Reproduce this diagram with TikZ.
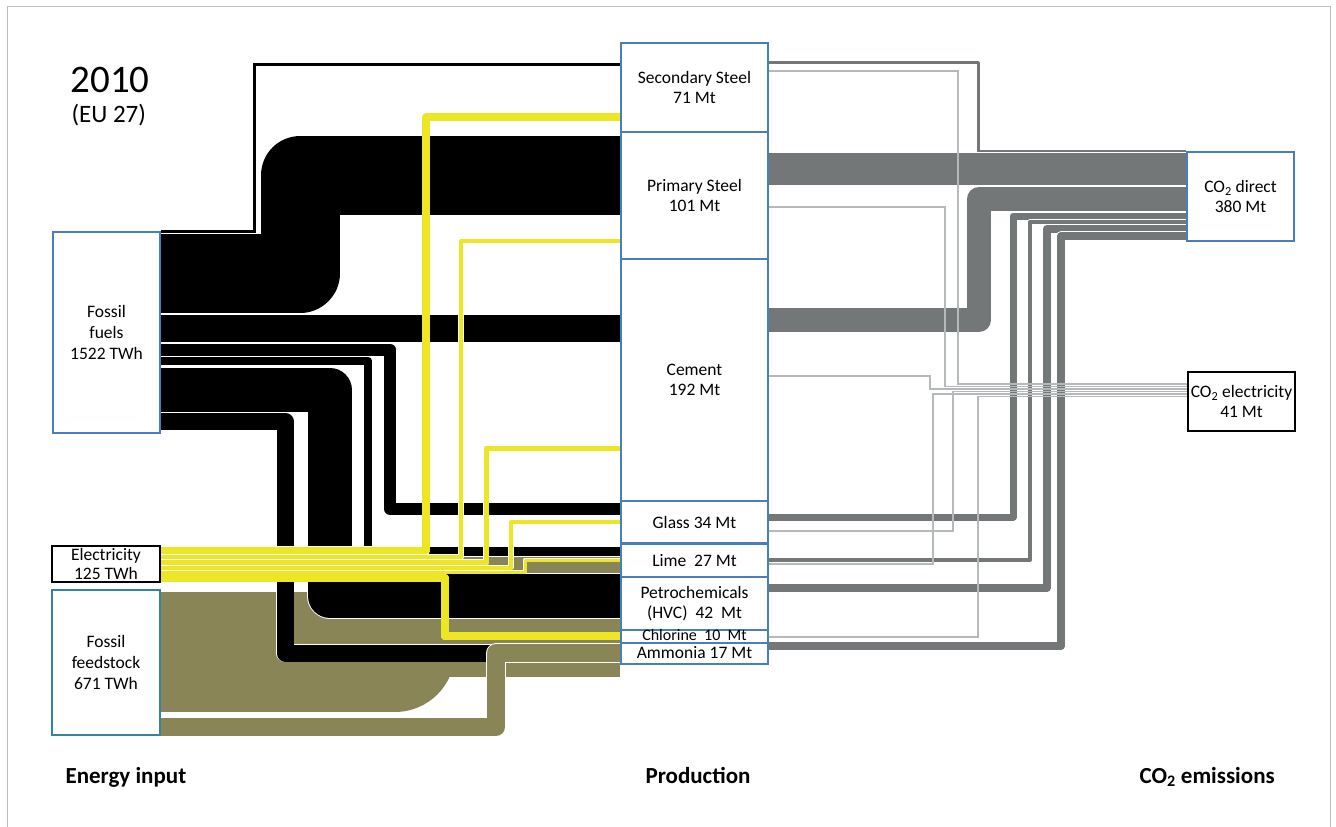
\documentclass[tikz,border=0pt]{standalone}
\usepackage{fontspec}
\setmainfont{Carlito}
\usetikzlibrary{backgrounds}

\definecolor{fuel}{RGB}{0,0,0}
\definecolor{elec}{RGB}{237,230,37}
\definecolor{feed}{RGB}{138,133,86}
\definecolor{codark}{RGB}{115,119,119}
\definecolor{colight}{RGB}{182,185,185}
\definecolor{boxblue}{RGB}{74,126,187}
\definecolor{boxteal}{RGB}{49,133,156}
\definecolor{framegray}{RGB}{190,190,190}

\newcommand{\boxfont}{\fontsize{17.5}{20}\selectfont}

\tikzset{
  stage/.style={draw=boxblue, line width=1.6, fill=white, inner sep=0pt, align=center, font=\boxfont},
  flow/.style={draw=white, line width=0.6, double=#1, line join=round},
  heading/.style={anchor=base west, font=\fontsize{23}{26}\selectfont\bfseries},
}

\begin{document}
\begin{tikzpicture}[x=1pt, y=-1pt]
\useasboundingbox (0,0) rectangle (1336,827);
\draw[framegray, line width=1] (7,827) -- (7,6) -- (1330,6) -- (1330,827);

% Title
\node[anchor=base west, font=\fontsize{39}{40}\selectfont] (year) at (67,92) {2010};
\node[anchor=base west, font=\fontsize{25}{28}\selectfont] (region) at (68,122) {(EU 27)};

% Energy input
\node[stage, minimum width=107, minimum height=201, font=\fontsize{17.5}{21}\selectfont] (ff) at (106.5,332.5) {Fossil\\fuels\\1522 TWh};
\node[stage, draw=black, line width=2.5, minimum width=108, minimum height=36, font=\fontsize{17.5}{19}\selectfont] (el) at (106,564) {Electricity\\125 TWh};
\node[stage, draw=boxteal, minimum width=108, minimum height=145, font=\fontsize{17.5}{21}\selectfont] (fs) at (106,662.5) {Fossil\\feedstock\\671 TWh};

% Production
\node[stage, minimum width=147, minimum height=89] (ss) at (694.5,87.5) {Secondary Steel\\71 Mt};
\node[stage, minimum width=147, minimum height=127] (ps) at (694.5,195.5) {Primary Steel\\101 Mt};
\node[stage, minimum width=147, minimum height=242] (cm) at (694.5,380) {Cement\\192 Mt};
\node[stage, minimum width=147, minimum height=42] (gl) at (694.5,522) {Glass 34 Mt};
\node[stage, minimum width=147, minimum height=33] (li) at (694.5,560.5) {Lime\ \ 27 Mt};
\node[stage, minimum width=147, minimum height=53] (pc) at (694.5,603.5) {Petrochemicals\\(HVC)\ \ 42\ \ Mt};
\node[stage, minimum width=147, minimum height=13, text height=9, text depth=2, font=\fontsize{16}{16}\selectfont] (cl) at (694.5,637) {Chlorine\ \ 10\ \ Mt};
\node[stage, minimum width=147, minimum height=21, text height=12, text depth=3] (am) at (694.5,653.5) {Ammonia 17 Mt};

% CO2 emissions
\node[stage, minimum width=107, minimum height=89] (cd) at (1240.5,196.5) {CO\textsubscript{2} direct\\380 Mt};
\node[stage, draw=black, line width=2.2, minimum width=107, minimum height=59] (ce) at (1241.5,401.5) {CO\textsubscript{2} electricity\\41 Mt};

% Bottom
\node[heading] (hin) at (62,783) {Energy input};
\node[heading] (hprod) at (642,783) {Production};
\node[heading] (hco) at (1136,783) {CO\textsubscript{2} emissions};

\begin{pgfonlayer}{background}
  % feedstock to petrochemicals
  \draw[flow=feed, double distance=120] (fs.east |- 0,652) -| (395,617) -- (pc.west |- 0,617);
  % fossil fuels
  \draw[fuel, line width=3] (ff.east |- 0,231) -| (254,64) -- (ss.west |- 0,64);
  \draw[flow=fuel, double distance=79] (ff.east |- 0,273.5) -| (300,175.5) -- (ps.west |- 0,175.5);
  \draw[flow=fuel, double distance=27] (ff.east |- 0,328) -- (cm.west |- 0,328);
  \foreach \dst/\ya/\x/\yb/\w in {gl/349.5/390/509/12, li/361/368/551.5/8.5, pc/390/330/596/44, am/421/285/653/17} {%
    \draw[flow=fuel, double distance=\w] (ff.east |- 0,\ya) -| (\x,\yb) -- (\dst.west |- 0,\yb);
  }
  % feedstock to ammonia
  \draw[flow=feed, double distance=18] (fs.east |- 0,727) -| (496,653) -- (am.west |- 0,653);
  % electricity
  \foreach \dst/\ya/\x/\yb/\w in {ss/550.5/426/117/7.5, ps/557/461/241/4, cm/562.5/486/448/5, gl/567.5/511/522/4, li/572/525/560/3, cl/578/445/636/7.5} {%
    \draw[flow=elec, double distance=\w] (el.east |- 0,\ya) -| (\x,\yb) -- (\dst.west |- 0,\yb);
  }
  % CO2 direct
  \draw[flow=codark, double distance=3] (ss.east |- 0,62) -| (978,151) -- (cd.west |- 0,151);
  \draw[flow=codark, double distance=32] (ps.east |- 0,169) -- (cd.west |- 0,169);
  \foreach \src/\ya/\x/\yb/\w in {cm/320/979/199/24, gl/517/1013/216/7, li/560/1030/222/4, pc/588/1047/228.5/8, am/646/1061/236/8} {%
    \draw[flow=codark, double distance=\w] (\src.east |- 0,\ya) -| (\x,\yb) -- (cd.west |- 0,\yb);
  }
  % CO2 electricity
  \foreach \src/\ya/\x/\yb in {ss/71/958/384, ps/207/945/386.5, cm/376/930/389, gl/531/953/391.5, li/564/933/394, cl/637/978/396.5} {%
    \draw[colight, line width=1.8] (\src.east |- 0,\ya) -| (\x,\yb) -- (ce.west |- 0,\yb);
  }
\end{pgfonlayer}
\end{tikzpicture}
\end{document}
